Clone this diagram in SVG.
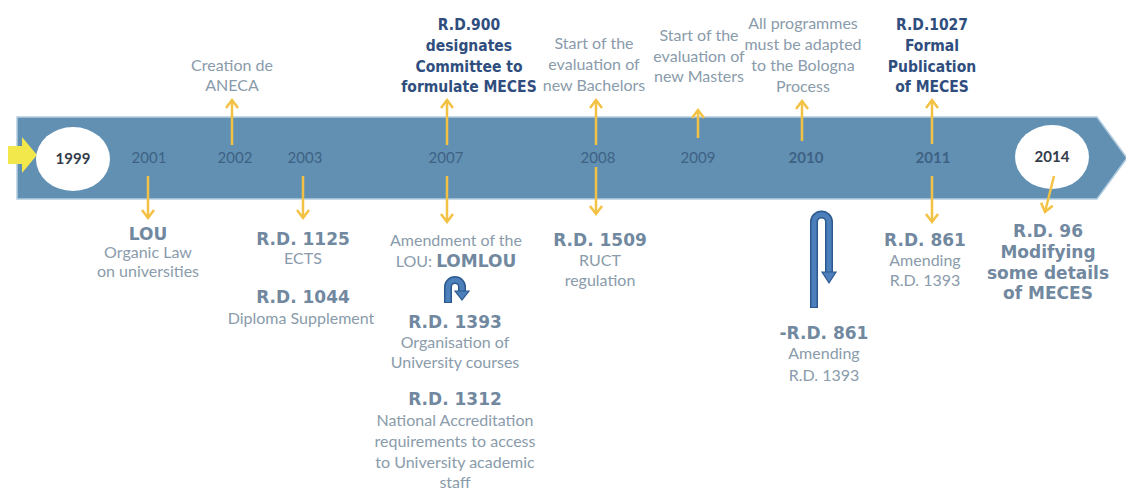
<svg xmlns="http://www.w3.org/2000/svg" width="1126" height="489" viewBox="0 0 1126 489">
<style>
.g{font-family:Lato,"Liberation Sans",sans-serif;font-size:16px;fill:#8a9bab;text-anchor:middle}
.bb{font-family:"DejaVu Sans",sans-serif;font-weight:bold;font-size:17px;fill:#71889f;text-anchor:middle}
.tb{font-family:"DejaVu Sans Condensed","DejaVu Sans",sans-serif;font-stretch:condensed;font-weight:bold;font-size:15.5px;fill:#2f4e7e;text-anchor:middle}
.yr{font-family:Lato,"Liberation Sans",sans-serif;font-size:15px;fill:#3f6283;text-anchor:middle}
.yb{font-family:Lato,"Liberation Sans",sans-serif;font-size:15px;font-weight:bold;fill:#333c48;text-anchor:middle}
.ya{stroke:#f3c244;stroke-width:2.5;fill:none;marker-end:url(#ah)}
.bo{stroke:#2d5a8e;stroke-width:8;fill:none}
.bi{stroke:#4d7fbb;stroke-width:5;fill:none}
</style>
<defs>
<marker id="ah" markerUnits="userSpaceOnUse" markerWidth="16" markerHeight="16" viewBox="0 0 16 16" refX="13" refY="8" orient="auto">
<path d="M5,2 L13,8 L5,14" fill="none" stroke="#f3c244" stroke-width="2.5"/>
</marker>
</defs>
<rect width="1126" height="489" fill="#ffffff"/>
<g id="timeline">
<polygon points="17,117 1097,117 1127,158 1097,199 17,199" fill="#6190b3" stroke="#b4cddf" stroke-width="1.5"/>
<polygon points="8,146 22,146 22,137 37,155 22,173 22,164 8,164" fill="#f3e84b"/>
<ellipse cx="73" cy="159" rx="37" ry="32" fill="#ffffff"/>
<ellipse cx="1052" cy="157" rx="37" ry="32" fill="#ffffff"/>
</g>
<g id="years">
<text class="yb" x="73" y="164">1999</text>
<text class="yr" x="149" y="163">2001</text>
<text class="yr" x="235" y="163">2002</text>
<text class="yr" x="305" y="163">2003</text>
<text class="yr" x="446" y="163">2007</text>
<text class="yr" x="598" y="163">2008</text>
<text class="yr" x="698" y="163">2009</text>
<text class="yr" x="806" y="163" font-weight="bold">2010</text>
<text class="yr" x="933" y="163" font-weight="bold">2011</text>
<text class="yb" x="1052" y="162">2014</text>
</g>
<g id="connectors">
<path class="ya" d="M148,176 L148,218"/>
<path class="ya" d="M232,145 L232,100"/>
<path class="ya" d="M303,176 L303,218"/>
<path class="ya" d="M447,145 L447,100"/>
<path class="ya" d="M447,176 L447,222"/>
<path class="ya" d="M596,145 L596,100"/>
<path class="ya" d="M596,167 L596,214"/>
<path class="ya" d="M698,138 L698,110"/>
<path class="ya" d="M802,141 L802,101"/>
<path class="ya" d="M932,144 L932,100"/>
<path class="ya" d="M932,176 L932,222"/>
<path class="ya" d="M1054,176 L1045,212"/>
<g id="uturn-small">
<path class="bo" d="M448,303 L448,287 A7,7 0 0 1 462,287 L462,292"/>
<path class="bi" d="M448,302 L448,287 A7,7 0 0 1 462,287 L462,292"/>
<polygon points="455,291 469,291 462,300" fill="#4d7fbb" stroke="#2d5a8e" stroke-width="1.2"/>
</g>
<g id="uturn-big">
<path class="bo" d="M814,308 L814,222 A7.5,7.5 0 0 1 829,222 L829,273"/>
<path class="bi" d="M814,307 L814,222 A7.5,7.5 0 0 1 829,222 L829,273"/>
<polygon points="822,272 836,272 829,283" fill="#4d7fbb" stroke="#2d5a8e" stroke-width="1.2"/>
</g>
</g>
<g id="aneca">
<text class="g" x="232" y="71">Creation de</text>
<text class="g" x="232" y="91">ANECA</text>
</g>
<g id="rd900">
<text class="tb" x="469" y="30">R.D.900</text>
<text class="tb" x="469" y="51">designates</text>
<text class="tb" x="469" y="72">Committee to</text>
<text class="tb" x="469" y="92">formulate MECES</text>
</g>
<g id="bachelors">
<text class="g" x="594" y="49">Start of the</text>
<text class="g" x="594" y="70">evaluation of</text>
<text class="g" x="594" y="91">new Bachelors</text>
</g>
<g id="masters">
<text class="g" x="699" y="41">Start of the</text>
<text class="g" x="699" y="62">evaluation of</text>
<text class="g" x="699" y="82">new Masters</text>
</g>
<g id="bologna">
<text class="g" x="803" y="29">All programmes</text>
<text class="g" x="803" y="50">must be adapted</text>
<text class="g" x="803" y="71">to the Bologna</text>
<text class="g" x="803" y="92">Process</text>
</g>
<g id="rd1027">
<text class="tb" x="932" y="30">R.D.1027</text>
<text class="tb" x="932" y="51">Formal</text>
<text class="tb" x="932" y="72">Publication</text>
<text class="tb" x="932" y="92">of MECES</text>
</g>
<g id="lou">
<text class="bb" x="148" y="240">LOU</text>
<text class="g" x="148" y="258">Organic Law</text>
<text class="g" x="148" y="277">on universities</text>
</g>
<g id="rd1125">
<text class="bb" x="303" y="245">R.D. 1125</text>
<text class="g" x="303" y="264">ECTS</text>
<text class="bb" x="303" y="303">R.D. 1044</text>
<text class="g" x="301" y="324">Diploma Supplement</text>
</g>
<g id="lomlou">
<text class="g" x="456" y="246">Amendment of the</text>
<text class="g" x="456" y="267">LOU: <tspan style="font-family:'DejaVu Sans',sans-serif;font-weight:bold;font-size:17px;fill:#71889f">LOMLOU</tspan></text>
</g>
<g id="rd1393">
<text class="bb" x="455" y="328">R.D. 1393</text>
<text class="g" x="455" y="348">Organisation of</text>
<text class="g" x="455" y="368">University courses</text>
</g>
<g id="rd1312">
<text class="bb" x="455" y="405">R.D. 1312</text>
<text class="g" x="455" y="426">National Accreditation</text>
<text class="g" x="455" y="447">requirements to access</text>
<text class="g" x="455" y="468">to University academic</text>
<text class="g" x="455" y="488">staff</text>
</g>
<g id="rd1509">
<text class="bb" x="600" y="246">R.D. 1509</text>
<text class="g" x="600" y="266">RUCT</text>
<text class="g" x="600" y="286">regulation</text>
</g>
<g id="rd861a">
<text class="bb" x="824" y="339">-R.D. 861</text>
<text class="g" x="824" y="359">Amending</text>
<text class="g" x="824" y="381">R.D. 1393</text>
</g>
<g id="rd861b">
<text class="bb" x="925" y="246">R.D. 861</text>
<text class="g" x="925" y="266">Amending</text>
<text class="g" x="925" y="286">R.D. 1393</text>
</g>
<g id="rd96">
<text class="bb" x="1048" y="237">R.D. 96</text>
<text class="bb" x="1048" y="258">Modifying</text>
<text class="bb" x="1048" y="279">some details</text>
<text class="bb" x="1048" y="299">of MECES</text>
</g>
</svg>
